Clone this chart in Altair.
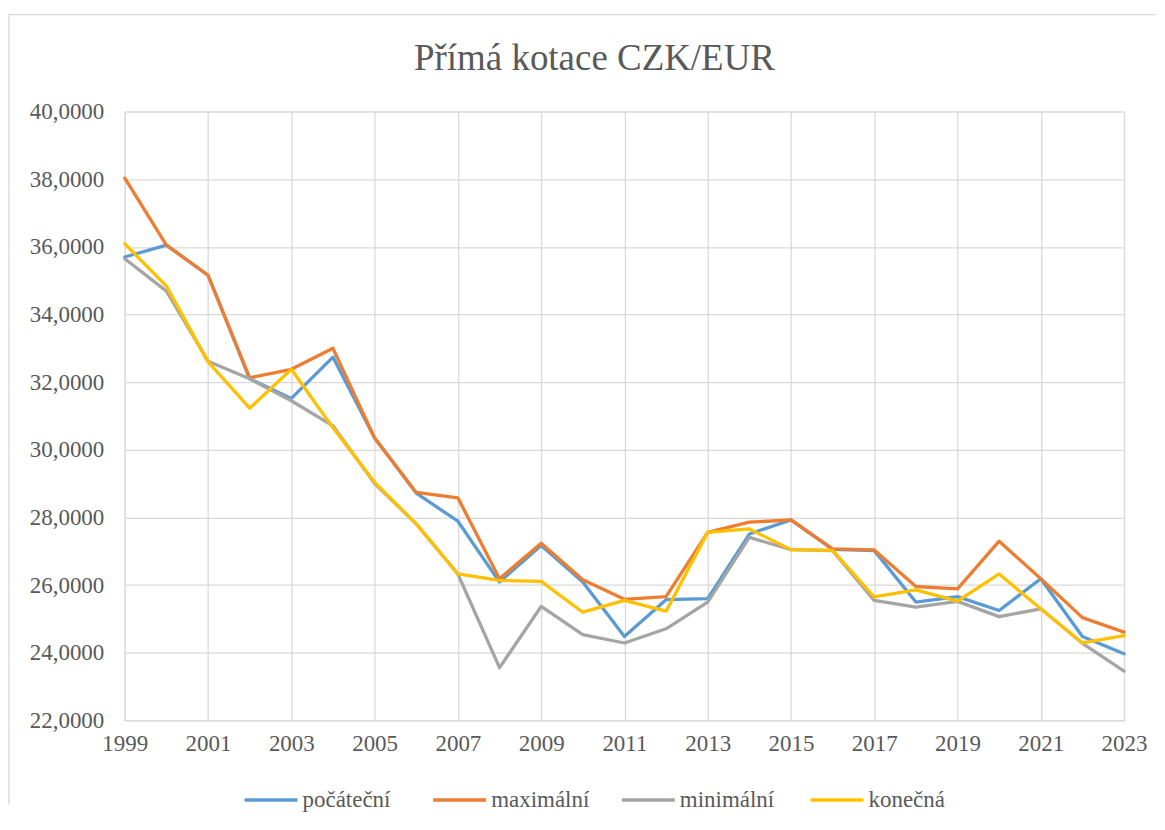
import altair as alt
import pandas as pd

# ---- data ----
years = list(range(1999, 2024))
pocatecni = [35.70, 36.05, 35.16, 32.10, 31.52, 32.74, 30.35, 28.72, 27.89, 26.09,
             27.17, 26.09, 24.48, 25.57, 25.60, 27.51, 27.93, 27.06, 27.02, 25.50,
             25.66, 25.25, 26.19, 24.48, 23.97]
maximalni = [38.03, 36.05, 35.16, 32.13, 32.38, 33.00, 30.35, 28.74, 28.58, 26.19,
             27.24, 26.16, 25.58, 25.66, 27.56, 27.86, 27.93, 27.07, 27.04, 25.96,
             25.89, 27.30, 26.19, 25.04, 24.61]
minimalni = [35.65, 34.69, 32.62, 32.10, 31.45, 30.71, 29.00, 27.81, 26.33, 23.56,
             25.37, 24.54, 24.29, 24.71, 25.50, 27.41, 27.05, 27.02, 25.55, 25.35,
             25.52, 25.07, 25.30, 24.28, 23.46]
konecna = [36.09, 34.84, 32.60, 31.23, 32.38, 30.65, 29.04, 27.81, 26.33, 26.14,
           26.11, 25.20, 25.55, 25.23, 27.56, 27.66, 27.05, 27.03, 25.65, 25.86,
           25.53, 26.33, 25.30, 24.29, 24.51]
series_names = ["počáteční", "maximální", "minimální", "konečná"]
series_colors = ["#5B9BD5", "#ED7D31", "#A5A5A5", "#FFC000"]
x_ticks = list(range(1999, 2024, 2))
y_ticks = list(range(22, 41, 2))
title_text = "Přímá kotace CZK/EUR"

rows = []
for name, vals in zip(series_names, [pocatecni, maximalni, minimalni, konecna]):
    for yr, v in zip(years, vals):
        rows.append({"rok": yr, "kurz": v, "rada": name})
df = pd.DataFrame(rows)

FONT = "Liberation Serif, Times New Roman, serif"
TXT = "#595959"
GRID = "#D9D9D9"

x_enc = alt.X(
    "rok:Q",
    scale=alt.Scale(domain=[1999, 2023], nice=False, zero=False),
    axis=alt.Axis(values=x_ticks, format="d", title=None, grid=True, ticks=False,
                  tickSize=0, labelFlush=False, labelOverlap=False, labelPadding=12,
                  labelFontSize=23, labelFont=FONT, labelColor=TXT,
                  domainColor=GRID, gridColor=GRID, domainWidth=1.3, gridWidth=1.3),
)
y_enc = alt.Y(
    "kurz:Q",
    scale=alt.Scale(domain=[22, 40], nice=False, zero=False),
    axis=alt.Axis(values=y_ticks, title=None, grid=True, ticks=False, tickSize=0,
                  labelExpr="replace(format(datum.value, '.4f'), '.', ',')",
                  labelPadding=21, labelFontSize=23, labelFont=FONT, labelColor=TXT,
                  domainColor=GRID, gridColor=GRID, domainWidth=1.3, gridWidth=1.3),
)
color_enc = alt.Color(
    "rada:N",
    scale=alt.Scale(domain=series_names, range=series_colors),
    legend=alt.Legend(title=None, orient="none", legendX=118, legendY=661,
                      direction="horizontal", columns=4, columnPadding=25,
                      gridAlign="all",
                      symbolType="stroke", symbolSize=2809, symbolStrokeWidth=3.5,
                      labelFont=FONT, labelFontSize=23, labelColor=TXT, labelOffset=3,
                      padding=0),
)

base = alt.Chart(df)
lines = [
    base.transform_filter(alt.datum.rada == n)
    .mark_line(strokeWidth=3.3, strokeJoin="round", strokeCap="round")
    .encode(x=x_enc, y=y_enc, color=color_enc)
    for n in series_names
]

frame_df = pd.DataFrame({"b": [0]})
top_border = alt.Chart(frame_df).mark_rule(color=GRID, strokeWidth=1.3).encode(
    x=alt.value(-116), x2=alt.value(1033), y=alt.value(-97))
left_border = alt.Chart(frame_df).mark_rule(color=GRID, strokeWidth=1.3).encode(
    x=alt.value(-116), y=alt.value(-97), y2=alt.value(694))

chart = alt.layer(top_border, left_border, *lines).properties(
    width=1001,
    height=610,
    padding={"top": 5, "left": 0, "right": 0, "bottom": 0},
    title=alt.TitleParams(title_text, font=FONT, fontSize=37, color=TXT,
                          fontWeight="normal", anchor="middle", dx=-30, offset=-64),
).configure_view(stroke=None)

chart.save("out.html", embed_options={"renderer": "svg", "actions": False})
